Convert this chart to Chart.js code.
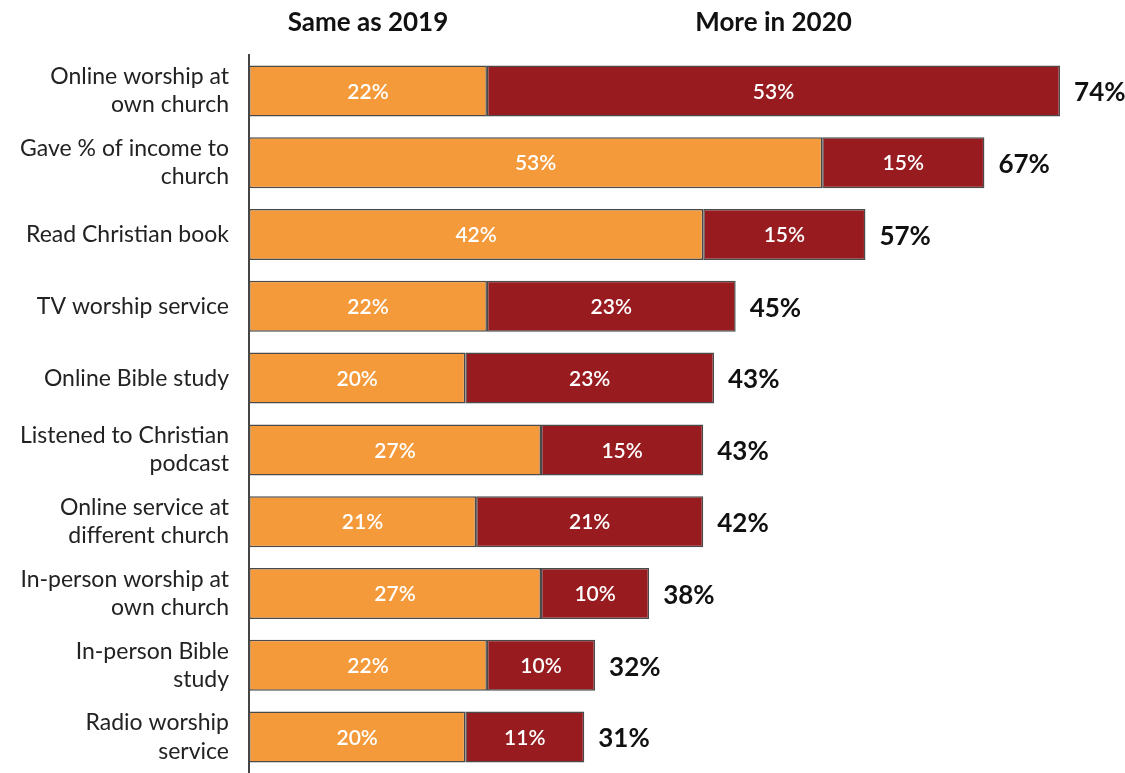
<!DOCTYPE html>
<html>
<head>
<meta charset="utf-8">
<script src="https://cdn.jsdelivr.net/npm/chart.js@4.4.0/dist/chart.umd.min.js"></script>
<style>
    html, body { margin: 0; padding: 0; background: #fff; }
    #wrap { width: 1125px; height: 773px; position: relative; }
</style>
</head>
<body>
<div id="wrap"><canvas id="activity-chart"></canvas></div>
<script>
// categories (multi-line labels as drawn)
const categories = [
    ['Online worship at', 'own church'],
    ['Gave % of income to', 'church'],
    'Read Christian book',
    'TV worship service',
    'Online Bible study',
    ['Listened to Christian', 'podcast'],
    ['Online service at', 'different church'],
    ['In-person worship at', 'own church'],
    ['In-person Bible', 'study'],
    ['Radio worship', 'service']
];
const sameAs2019 = [22, 53, 42, 22, 20, 27, 21, 27, 22, 20];
const moreIn2020 = [53, 15, 15, 23, 23, 15, 21, 10, 10, 11];
const totals = [74, 67, 57, 45, 43, 43, 42, 38, 32, 31];
const seriesNames = ['Same as 2019', 'More in 2020'];

const fontFamily = "Lato, 'Noto Sans', sans-serif";

// draws the numbers inside the bars, totals at the end and the two headers
const labelPlugin = {
    id: 'labelPlugin',
    afterDatasetsDraw(chart) {
        const c = chart.ctx;
        const x = chart.scales.x;
        c.save();
        c.textBaseline = 'middle';

        chart.data.datasets.forEach((ds, i) => {
            const meta = chart.getDatasetMeta(i);
            meta.data.forEach((bar, j) => {
                const start = i === 0 ? 0 : sameAs2019[j];
                const mid = x.getPixelForValue(start + ds.data[j] / 2);
                c.fillStyle = '#ffffff';
                c.font = '600 21px ' + fontFamily;
                c.textAlign = 'center';
                c.fillText(ds.data[j] + '%', mid, bar.y + 1);
            });
        });

        // totals
        const last = chart.getDatasetMeta(1);
        last.data.forEach((bar, j) => {
            c.fillStyle = '#111111';
            c.font = 'bold 26px ' + fontFamily;
            c.textAlign = 'left';
            c.fillText(totals[j] + '%', bar.x + 14, bar.y + 2);
        });

        // column headers over the first bar's segments
        c.fillStyle = '#111111';
        c.font = 'bold 26px ' + fontFamily;
        c.textAlign = 'center';
        c.fillText(seriesNames[0], x.getPixelForValue(sameAs2019[0] / 2), 23);
        c.fillText(seriesNames[1], x.getPixelForValue(sameAs2019[0] + moreIn2020[0] / 2), 23);
        c.restore();
    }
};

new Chart(document.getElementById('activity-chart'), {
    type: 'bar',
    data: {
        labels: categories,
        datasets: [{
            label: seriesNames[0],
            data: sameAs2019,
            backgroundColor: '#F49A3A',
            borderColor: '#4a4a4a',
            borderWidth: 1.5,
            borderSkipped: false,
            barPercentage: 0.71,
            categoryPercentage: 1
        }, {
            label: seriesNames[1],
            data: moreIn2020,
            backgroundColor: '#971B1F',
            borderColor: '#4a4a4a',
            borderWidth: 1.5,
            borderSkipped: false,
            barPercentage: 0.71,
            categoryPercentage: 1
        }]
    },
    options: {
        indexAxis: 'y',
        responsive: true,
        maintainAspectRatio: false,
        animation: false,
        layout: { padding: { top: 55, left: 0, right: 0, bottom: 0 } },
        plugins: {
            legend: { display: false },
            tooltip: { enabled: false }
        },
        scales: {
            x: {
                stacked: true,
                min: 0,
                max: 81,
                display: false
            },
            y: {
                stacked: true,
                afterFit(scale) {
                    scale.width = 249;
                    scale.paddingTop = 0;
                    scale.paddingBottom = 0;
                },
                grid: { display: false, drawTicks: false },
                border: { display: true, color: '#444444', width: 2 },
                ticks: {
                    color: '#222222',
                    padding: 20,
                    font: { family: fontFamily, size: 23, lineHeight: 1.22 },
                    crossAlign: 'near'
                }
            }
        }
    },
    plugins: [labelPlugin]
});
</script>
</body>
</html>
